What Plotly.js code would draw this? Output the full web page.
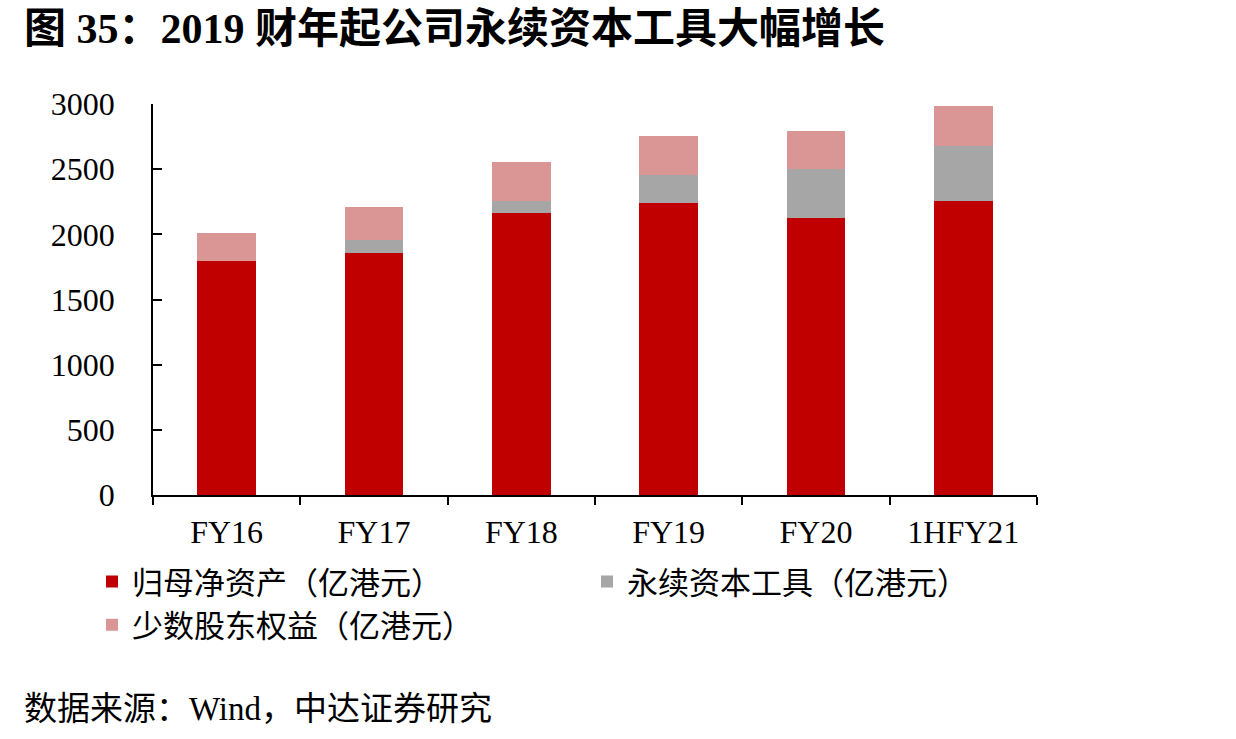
<!DOCTYPE html>
<html>
<head>
<meta charset="utf-8">
<script src="https://cdn.plot.ly/plotly-3.0.1.min.js"></script>
<style>
  html, body { margin: 0; padding: 0; background: #fff; }
  #chart { width: 1236px; height: 739px; }
</style>
</head>
<body>
<div id="chart"></div>
<script>
// stacked bars: equity split into three parts

var periods = ['FY16', 'FY17', 'FY18', 'FY19', 'FY20', '1HFY21'];
var parentEquity = [1794, 1858, 2161, 2238, 2126, 2256];
var perpetuals = [0, 97, 98, 214, 372, 423];
var minority = [214, 252, 293, 299, 298, 306];

var serif = '"Liberation Serif", "Times New Roman", "Noto Sans CJK SC", serif';
var cjk = '"Noto Sans CJK SC", "Liberation Serif", serif';

var trace = [
    {
        x: periods,
        y: parentEquity,
        name: '归母净资产（亿港元）',
        type: 'bar',
        marker: {color: '#C00000'},
        hoverinfo: 'x+y+name'
    },
    {
        x: periods,
        y: perpetuals,
        name: '永续资本工具（亿港元）',
        type: 'bar',
        marker: {color: '#A6A6A6'},
        hoverinfo: 'x+y+name'
    },
    {
        x: periods,
        y: minority,
        name: '少数股东权益（亿港元）',
        type: 'bar',
        marker: {color: '#DA9694'},
        hoverinfo: 'x+y+name'
    }
];

var layout = {
    width: 1236,
    height: 739,
    barmode: 'stack',
    bargap: 0.6,
    paper_bgcolor: '#ffffff',
    plot_bgcolor: '#ffffff',
    showlegend: true,
    margin: {l: 153, r: 199, t: 104, b: 244, pad: 0},
    font: {family: serif, size: 32, color: '#000'},
    xaxis: {
        type: 'category',
        showline: true,
        linecolor: '#000',
        linewidth: 1.5,
        ticks: 'outside',
        tickson: 'boundaries',
        ticklen: 8,
        tickwidth: 1.5,
        tickcolor: '#000',
        ticklabelstandoff: 8,
        showgrid: false,
        zeroline: false,
        tickfont: {family: serif, size: 32, color: '#000'}
    },
    yaxis: {
        range: [0, 3000],
        dtick: 500,
        showline: true,
        linecolor: '#000',
        linewidth: 1.5,
        ticks: 'inside',
        ticklen: 9,
        tickwidth: 1.5,
        tickcolor: '#000',
        ticklabelstandoff: 30,
        showgrid: false,
        zeroline: false,
        tickfont: {family: serif, size: 32, color: '#000'}
    },
    legend: {
        orientation: 'h',
        x: -0.069,
        xanchor: 'left',
        y: -0.153,
        yanchor: 'top',
        entrywidth: 450,
        entrywidthmode: 'pixels',
        traceorder: 'normal',
        itemwidth: 30,
        tracegroupgap: 0,
        font: {family: cjk, size: 31, color: '#000'}
    },
    annotations: [
        {
            text: '<b>图 35：2019 财年起公司永续资本工具大幅增长</b>',
            xref: 'paper', yref: 'paper',
            x: -0.148, y: 1.193,
            xanchor: 'left', yanchor: 'middle',
            showarrow: false,
            font: {family: serif, size: 42, color: '#000'}
        },
        {
            text: '数据来源：Wind，中达证券研究',
            xref: 'paper', yref: 'paper',
            x: -0.148, y: -0.547,
            xanchor: 'left', yanchor: 'middle',
            showarrow: false,
            font: {family: serif, size: 33, color: '#000'}
        }
    ]
};

Plotly.newPlot('chart', trace, layout, {displayModeBar: false});
</script>
</body>
</html>
